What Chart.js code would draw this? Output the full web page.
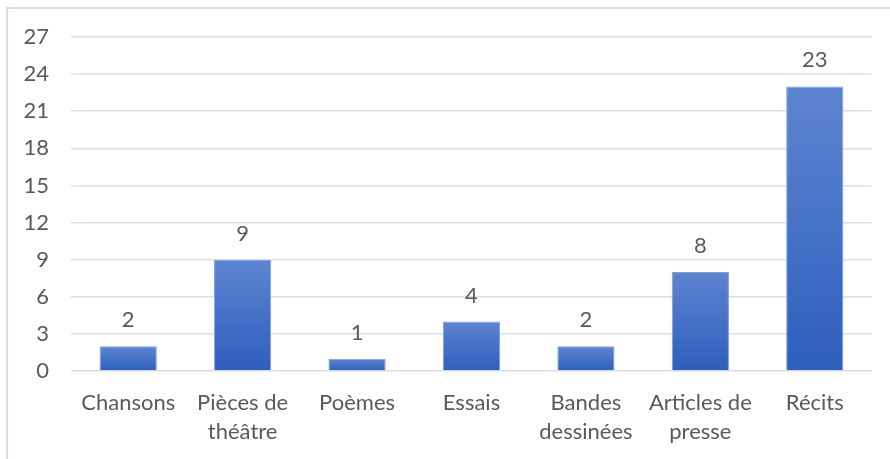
<!DOCTYPE html>
<html>
<head>
<meta charset="utf-8">
<script src="https://cdn.jsdelivr.net/npm/chart.js@4.4.1/dist/chart.umd.min.js"></script>
<style>
    html, body { margin: 0; padding: 0; background: #fff; }
    #frame {
        position: absolute; left: 6px; top: 7px; width: 900px; height: 470px;
        border-top: 2px solid #dadde3; border-left: 2px solid #dadde3;
    }
    #wrap { position: absolute; left: 0; top: 0; width: 890px; height: 459px; }
</style>
</head>
<body>
<div id="frame"></div>
<div id="wrap"><canvas id="chart"></canvas></div>
<script>
const categories = ['Chansons', ['Pièces de', 'théâtre'], 'Poèmes', 'Essais', ['Bandes', 'dessinées'], ['Articles de', 'presse'], 'Récits'];
const counts = [2, 9, 1, 4, 2, 8, 23];
const yMax = 27;
const yStep = 3;

const FONT = 'Lato';
const TEXT = '#595959';

// vertical gradient per bar, lighter on top
function barFill(context) {
    const chart = context.chart;
    const y = chart.scales.y;
    if (!chart.chartArea || !y) return '#4472c4';
    const top = y.getPixelForValue(context.raw);
    const base = y.getPixelForValue(0);
    const g = chart.ctx.createLinearGradient(0, top, 0, base);
    g.addColorStop(0, '#5d84d0');
    g.addColorStop(1, '#2e5fbd');
    return g;
}

const valueLabels = {
    id: 'valueLabels',
    afterDatasetsDraw(chart) {
        const ctx = chart.ctx;
        const meta = chart.getDatasetMeta(0);
        ctx.save();
        ctx.font = '22px ' + FONT;
        ctx.fillStyle = TEXT;
        ctx.textAlign = 'center';
        ctx.textBaseline = 'alphabetic';
        meta.data.forEach((bar, i) => {
            ctx.fillText(String(counts[i]), bar.x, bar.y - 19);
        });
        ctx.restore();
    }
};

new Chart(document.getElementById('chart'), {
    type: 'bar',
    data: {
        labels: categories,
        datasets: [{
            data: counts,
            backgroundColor: barFill,
            borderColor: '#7d9edb',
            borderWidth: 1,
            barPercentage: 0.5,
            categoryPercentage: 1
        }]
    },
    options: {
        responsive: true,
        maintainAspectRatio: false,
        animation: false,
        layout: { padding: { top: 37, right: 18, bottom: 0, left: 0 } },
        plugins: { legend: { display: false }, tooltip: { enabled: false } },
        scales: {
            y: {
                min: 0,
                max: yMax,
                ticks: { stepSize: yStep, padding: 22, color: TEXT, font: { family: FONT, size: 22 } },
                grid: { color: '#dadee5', lineWidth: 1.5, drawTicks: false },
                border: { display: false },
                afterFit(scale) { scale.width = 71; }
            },
            x: {
                ticks: { padding: 17, color: TEXT, maxRotation: 0, autoSkip: false, font: { family: FONT, size: 22, lineHeight: 1.33 } },
                grid: { display: false, drawTicks: false },
                border: { display: false },
                afterFit(scale) { scale.height = 88; }
            }
        }
    },
    plugins: [valueLabels]
});
</script>
</body>
</html>
